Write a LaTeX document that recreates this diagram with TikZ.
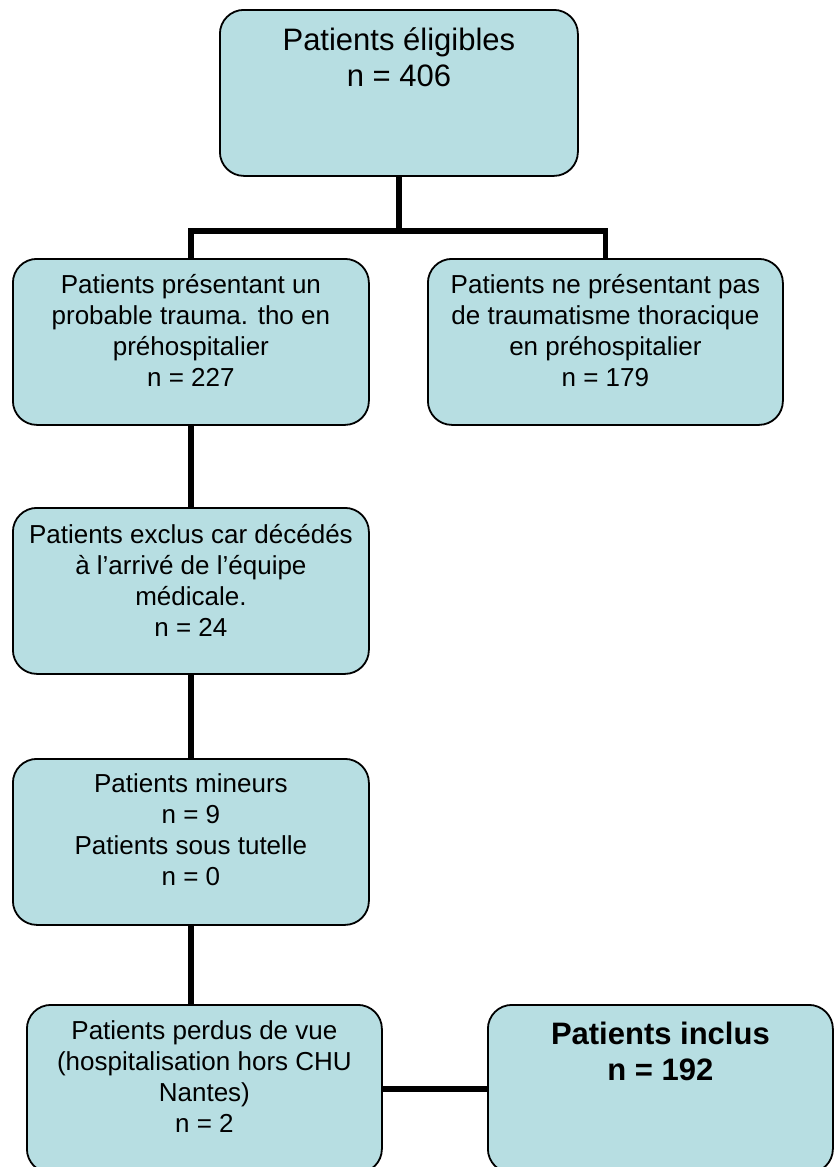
\documentclass[tikz,border=0pt]{standalone}
\usepackage{fontspec}
\setmainfont{Liberation Sans}
\definecolor{boxfill}{RGB}{183,222,226}
\newcommand{\boxtext}[4]{\parbox[t][#2pt][t]{#1pt}{\centering\vspace*{#3pt}#4}}
\begin{document}
\begin{tikzpicture}[x=1pt, y=-1pt, line join=miter,
	flowbox/.style={draw, fill=boxfill, line width=1.8pt, rounded corners=24pt, inner sep=0pt, anchor=north west, font=\fontsize{26}{31}\selectfont},
	bigbox/.style={flowbox, font=\fontsize{31}{36}\selectfont},
	inclbox/.style={flowbox, font=\fontsize{31}{36}\selectfont\bfseries},
	link/.style={line width=5.6pt}]
		\useasboundingbox (0,0) rectangle (834,1167);
		\clip (0,0) rectangle (834,1167);
		\node[bigbox] (elig) at (219,9) {\boxtext{358}{166}{18}{Patients éligibles\\ n = 406}};
		\node[flowbox] (yes) at (12,258) {\boxtext{356}{166}{15}{Patients présentant un\\ probable trauma. tho en\\ préhospitalier\\ n = 227}};
		\node[flowbox] (no) at (427,258) {\boxtext{355}{166}{15}{Patients ne présentant pas\\ de traumatisme thoracique\\ en préhospitalier\\ n = 179}};
		\node[flowbox] (excl) at (12,507) {\boxtext{356}{166}{16}{Patients exclus car décédés\\ à l’arrivé de l’équipe\\ médicale.\\ n = 24}};
		\node[flowbox] (minor) at (12,758) {\boxtext{356}{166}{15}{Patients mineurs\\ n = 9\\ Patients sous tutelle\\ n = 0}};
		\node[flowbox] (lost) at (26,1004) {\boxtext{355}{168}{16}{Patients perdus de vue\\ (hospitalisation hors CHU\\ Nantes)\\ n = 2}};
		\node[inclbox] (incl) at (487,1004) {\boxtext{345}{168}{17}{Patients inclus\\ n = 192}};
		\coordinate (fork) at (elig.south |- 0,231);
		\draw[link] (elig.south) -- (fork);
		\draw[link] (yes.north) |- (fork) -| (no.north);
		\draw[link] (yes.south) -- (yes.south |- excl.north);
		\draw[link] (excl.south) -- (minor.north);
		\draw[link] (minor.south) -- (minor.south |- lost.north);
		\draw[link] (lost.east) -- (incl.west);
\end{tikzpicture}
\end{document}
